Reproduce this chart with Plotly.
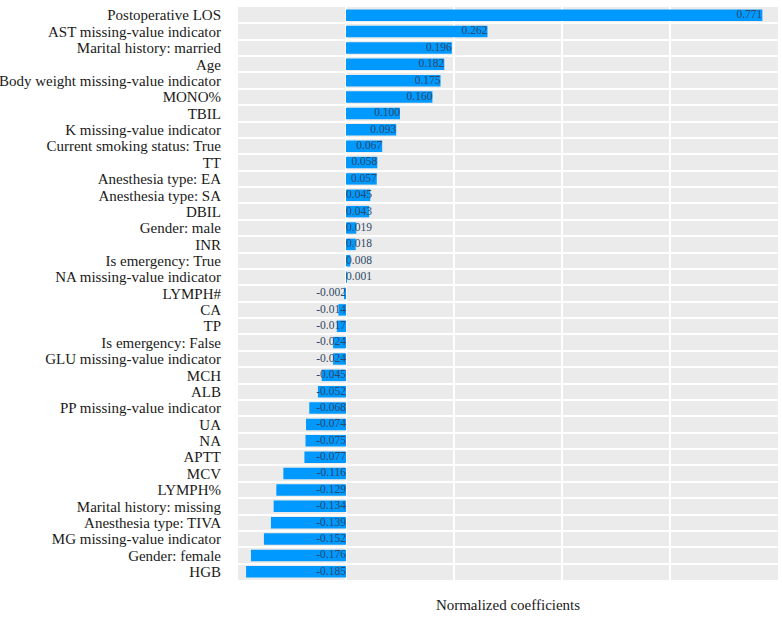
import plotly.graph_objects as go

features = [
    "Postoperative LOS", "AST missing-value indicator", "Marital history: married", "Age",
    "Body weight missing-value indicator", "MONO%", "TBIL", "K missing-value indicator",
    "Current smoking status: True", "TT", "Anesthesia type: EA", "Anesthesia type: SA",
    "DBIL", "Gender: male", "INR", "Is emergency: True", "NA missing-value indicator",
    "LYMPH#", "CA", "TP", "Is emergency: False", "GLU missing-value indicator", "MCH",
    "ALB", "PP missing-value indicator", "UA", "NA", "APTT", "MCV", "LYMPH%",
    "Marital history: missing", "Anesthesia type: TIVA", "MG missing-value indicator",
    "Gender: female", "HGB",
]
coefficients = [
    0.771, 0.262, 0.196, 0.182, 0.175, 0.160, 0.100, 0.093, 0.067, 0.058, 0.057, 0.045,
    0.043, 0.019, 0.018, 0.008, 0.001, -0.002, -0.014, -0.017, -0.024, -0.024, -0.045,
    -0.052, -0.068, -0.074, -0.075, -0.077, -0.116, -0.129, -0.134, -0.139, -0.152,
    -0.176, -0.185,
]

FONT = "Liberation Serif"
BAR = "#0099ff"
LABEL = "#2f4866"
TEXT = "#1a1a1a"

# label anchor: at bar tip for positive bars long enough, otherwise at zero
text_x, text_pos = [], []
for v in coefficients:
    if v >= 0.05:
        text_x.append(v); text_pos.append("middle left")
    elif v >= 0:
        text_x.append(0); text_pos.append("middle right")
    else:
        text_x.append(0); text_pos.append("middle left")

fig = go.Figure()
fig.add_trace(go.Bar(
    x=coefficients, y=features, orientation="h",
    marker=dict(color=BAR, line=dict(width=0)),
    hoverinfo="x+y", showlegend=False,
))
fig.add_trace(go.Scatter(
    x=text_x, y=features, mode="text",
    text=[f"{v:.3f}" for v in coefficients], textposition=text_pos,
    textfont=dict(family=FONT, size=11.5, color=LABEL),
    hoverinfo="skip", showlegend=False, cliponaxis=False,
))

n = len(features)
fig.update_layout(
    width=782, height=618,
    margin=dict(l=238, r=4, t=7, b=38, autoexpand=False),
    paper_bgcolor="white", plot_bgcolor="#ebebeb",
    bargap=0.3,
    font=dict(family=FONT, size=15, color=TEXT),
    xaxis=dict(
        range=[-0.2, 0.8], dtick=0.2, tick0=0, automargin=False,
        showgrid=True, gridcolor="white", gridwidth=1.5,
        zeroline=False, showticklabels=False, ticks="",
        title=dict(text="Normalized coefficients", font=dict(family=FONT, size=15, color=TEXT), standoff=19),
        showline=False,
    ),
    yaxis=dict(
        type="category", range=[n - 0.5, -0.5], autorange=False, automargin=False,
        tickmode="linear", dtick=1, tick0=0,
        tickson="boundaries", showgrid=True, gridcolor="white", gridwidth=1.5,
        ticks="", ticklabelstandoff=16,
        tickfont=dict(family=FONT, size=15, color=TEXT),
        showline=False, zeroline=False,
    ),
)

fig.write_html("out.html", config={"displayModeBar": False},
               post_script="document.body.style.margin='0';")
